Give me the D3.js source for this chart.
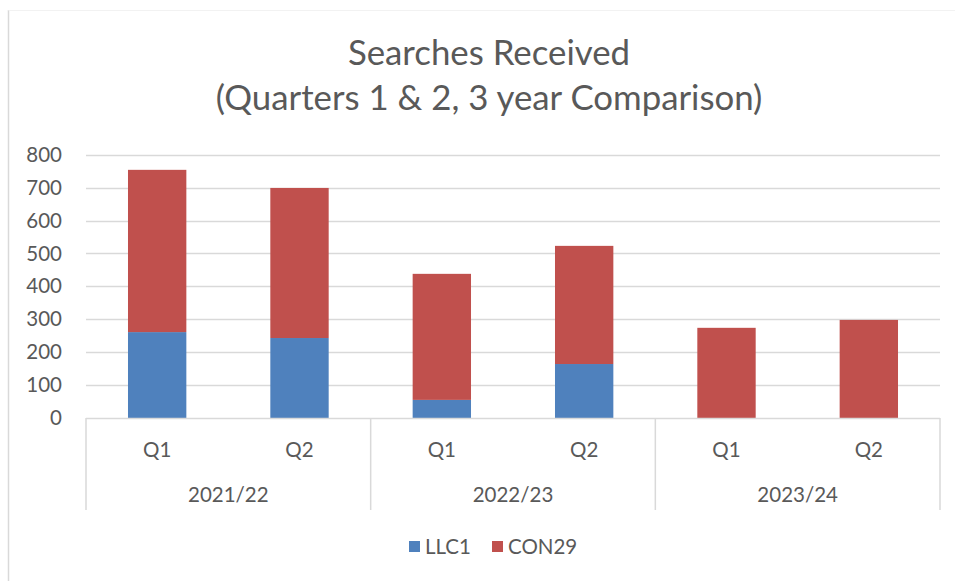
<!DOCTYPE html>
<html>
<head>
<meta charset="utf-8">
<script src="https://cdn.jsdelivr.net/npm/d3@7"></script>
<style>
  body { margin: 0; background: #fff; }
  text { font-family: Lato, "Open Sans", sans-serif; fill: #595959; }
</style>
</head>
<body>
<svg id="chart" width="955" height="581"></svg>
<script>
// data
const years = ['2021/22', '2022/23', '2023/24'];
const quarters = ['Q1', 'Q2'];
const llc1 = [261, 243, 55, 164, 0, 0];
const con29 = [493, 456, 383, 359, 274, 298];
const seriesNames = ['LLC1', 'CON29'];
const seriesColors = ['#4f81bd', '#c0504d'];
const yTicks = [0, 100, 200, 300, 400, 500, 600, 700, 800];

// one row per bar
let rows = [];
years.forEach(function (y, i) {
    quarters.forEach(function (q, j) {
        let k = i * quarters.length + j;
        rows.push({ key: y + ' ' + q, year: y, quarter: q, LLC1: llc1[k], CON29: con29[k] });
    });
});

const svg = d3.select('#chart');

const plotLeft = 86, plotRight = 940, plotTop = 154.7, plotBottom = 418;
const labelSize = '20.5px';

let x = d3.scaleBand()
    .domain(rows.map(d => d.key))
    .range([plotLeft, plotRight])
    .paddingInner(0.59)
    .paddingOuter(0.295);

let xYear = d3.scaleBand()
    .domain(years)
    .range([plotLeft, plotRight]);

let y = d3.scaleLinear()
    .domain([0, 800])
    .range([plotBottom, plotTop]);

// chart frame (only left and top edges show in the picture)
svg.append('line')
    .attr('x1', 8.5).attr('x2', 8.5).attr('y1', 10).attr('y2', 581)
    .attr('stroke', '#d9d9d9').attr('stroke-width', 1.5);
svg.append('line')
    .attr('x1', 8.5).attr('x2', 955).attr('y1', 10.5).attr('y2', 10.5)
    .attr('stroke', '#f2f2f2').attr('stroke-width', 1);

// title
let title = svg.append('text')
    .attr('text-anchor', 'middle')
    .style('font-size', '34.8px');
title.append('tspan').attr('x', 489).attr('y', 65).text('Searches Received');
title.append('tspan').attr('x', 489).attr('y', 110).text('(Quarters 1 & 2, 3 year Comparison)');

// gridlines
svg.append('g')
    .selectAll('line')
    .data(yTicks.filter(t => t > 0))
    .enter().append('line')
    .attr('x1', plotLeft).attr('x2', plotRight)
    .attr('y1', d => Math.round(y(d)) + 0.5)
    .attr('y2', d => Math.round(y(d)) + 0.5)
    .attr('stroke', '#d9d9d9')
    .attr('stroke-width', 1.5);

// y axis labels
let yAxis = d3.axisLeft(y).tickValues(yTicks).tickSize(0).tickPadding(0);
svg.append('g')
    .attr('transform', 'translate(62,0)')
    .call(yAxis)
    .call(g => g.select('.domain').remove())
    .selectAll('text')
    .style('font-size', labelSize)
    .style('font-family', 'Lato, sans-serif')
    .attr('fill', '#595959');

// stacked bars
let stack = d3.stack().keys(seriesNames)(rows);
svg.append('g')
    .selectAll('g')
    .data(stack)
    .enter().append('g')
    .attr('fill', (d, i) => seriesColors[i])
    .selectAll('rect')
    .data(d => d)
    .enter().append('rect')
    .attr('x', d => x(d.data.key))
    .attr('width', x.bandwidth())
    .attr('y', d => y(d[1]))
    .attr('height', d => y(d[0]) - y(d[1]));

// category axis: baseline plus group separators
let axisColor = '#d9d9d9';
svg.append('line')
    .attr('x1', plotLeft).attr('x2', plotRight)
    .attr('y1', plotBottom + 0.5).attr('y2', plotBottom + 0.5)
    .attr('stroke', axisColor).attr('stroke-width', 1.5);

let seps = years.map(d => xYear(d)).concat([plotRight]);
svg.append('g')
    .selectAll('line')
    .data(seps)
    .enter().append('line')
    .attr('x1', d => d).attr('x2', d => d)
    .attr('y1', plotBottom).attr('y2', 510)
    .attr('stroke', axisColor).attr('stroke-width', 1.5);

// quarter labels
svg.append('g')
    .selectAll('text')
    .data(rows)
    .enter().append('text')
    .attr('x', d => x(d.key) + x.bandwidth() / 2)
    .attr('y', 457)
    .attr('text-anchor', 'middle')
    .style('font-size', labelSize)
    .text(d => d.quarter);

// year labels
svg.append('g')
    .selectAll('text')
    .data(years)
    .enter().append('text')
    .attr('x', d => xYear(d) + xYear.bandwidth() / 2)
    .attr('y', 502)
    .attr('text-anchor', 'middle')
    .style('font-size', labelSize)
    .text(d => d);

// legend
let legend = svg.append('g');
let legendX = [409, 492];
seriesNames.forEach(function (name, i) {
    legend.append('rect')
        .attr('x', legendX[i]).attr('y', 541)
        .attr('width', 11).attr('height', 11)
        .attr('fill', seriesColors[i]);
    legend.append('text')
        .attr('x', legendX[i] + 16).attr('y', 554)
        .style('font-size', labelSize)
        .text(name);
});
</script>
</body>
</html>
